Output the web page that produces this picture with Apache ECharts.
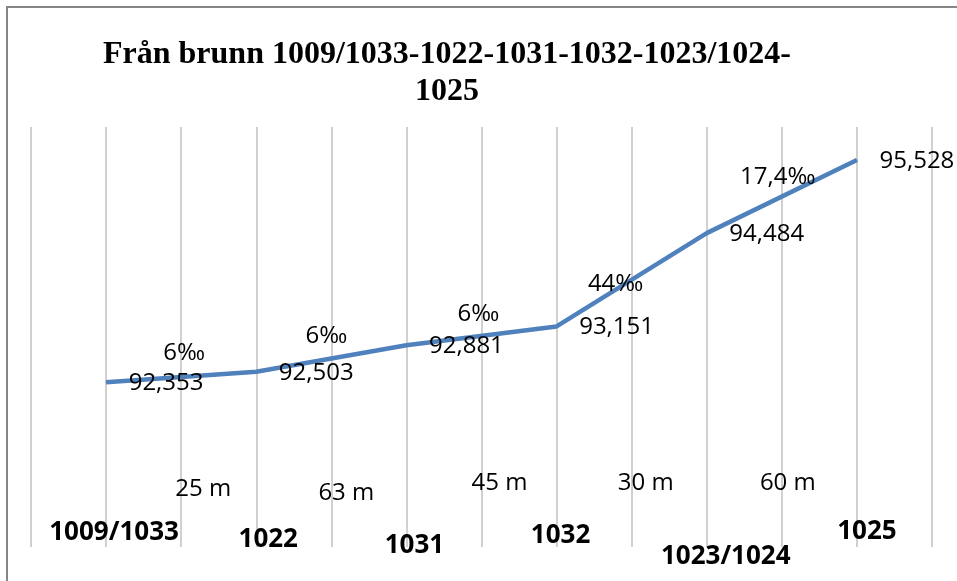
<!DOCTYPE html>
<html><head><meta charset="utf-8">
<script src="https://cdn.jsdelivr.net/npm/echarts@6/dist/echarts.min.js"></script>
<style>html,body{margin:0;padding:0;background:#fff}#c{width:957px;height:581px}</style>
</head><body><div id="c"></div>
<script>
const wells = ['1009/1033', '1022', '1031', '1032', '1023/1024', '1025'];
const elevations = [92.353, 92.503, 92.881, 93.151, 94.484, 95.528];
const slopes = ['6‰', '6‰', '6‰', '44‰', '17,4‰'];
const distances = ['25 m', '63 m', '45 m', '30 m', '60 m'];
const titleLines = ['Från brunn 1009/1033-1022-1031-1032-1023/1024-', '1025'];

// layout nudges (px) for the free-floating labels
const wellOffsets = [[8, -14], [12, -7], [8, -1], [4, -11], [19, 10], [10, -15]];
const distOffsets = [[22, -58], [15, -54], [18, -64], [14, -64], [6, -64]];
const slopeOffsets = [[3, -24], [-5, -22], [-3, -22], [-16, 4], [-4, -19]];

const Y_MIN = 90, Y_MAX = 96;
const pos = i => 1 + 2 * i;          // wells sit on every other gridline
const fmtNum = v => v.toFixed(3).replace('.', ',');
const FONT = '"Open Sans", "Noto Sans", sans-serif';

const textSeries = (data, size, weight, z) => ({
  type: 'scatter', clip: false, symbolSize: 0, silent: true,
  itemStyle: {color: '#000', opacity: 1},
  data,
  label: {show: true, position: 'inside', fontFamily: FONT, fontSize: size, fontWeight: weight,
    color: '#000', opacity: 1, textBorderWidth: 0, formatter: p => p.name},
  emphasis: {disabled: true},
  z
});

const chart = echarts.init(document.getElementById('c'), null, {renderer: 'canvas'});
chart.setOption({
  animation: false,
  backgroundColor: '#fff',
  grid: {left: 31, right: 25, top: 127, bottom: 34},
  xAxis: {
    type: 'value', min: 0, max: 12, interval: 1,
    axisLine: {show: false}, axisTick: {show: false}, axisLabel: {show: false},
    splitLine: {show: true, lineStyle: {color: '#c0c0c0', width: 1.5}}
  },
  yAxis: {
    type: 'value', min: Y_MIN, max: Y_MAX, show: false,
    splitLine: {show: false}
  },
  graphic: [
    {type: 'rect', silent: true, shape: {x: 7, y: 7, width: 980, height: 600},
     style: {fill: 'none', stroke: '#868686', lineWidth: 2}},
    {type: 'text', x: 447, y: 55, style: {text: titleLines[0], font: 'bold 32px "Liberation Serif", serif',
      align: 'center', verticalAlign: 'middle', fill: '#000'}},
    {type: 'text', x: 447, y: 92, style: {text: titleLines[1], font: 'bold 32px "Liberation Serif", serif',
      align: 'center', verticalAlign: 'middle', fill: '#000'}}
  ],
  series: [
    {
      type: 'line',
      data: elevations.map((v, i) => [pos(i), v]),
      showSymbol: true, symbol: 'circle', symbolSize: 1,
      itemStyle: {color: '#4F81BD'},
      lineStyle: {color: '#4F81BD', width: 4.5},
      label: {show: true, position: 'inside', offset: [60, 1], fontFamily: FONT, fontSize: 24, color: '#000',
        formatter: p => fmtNum(p.value[1])},
      z: 3
    },
    textSeries(wells.map((w, i) => ({value: [pos(i), Y_MIN], name: w, label: {offset: wellOffsets[i]}})),
      26, 'bold', 4),
    textSeries(distances.map((d, i) => ({value: [pos(i) + 1, Y_MIN], name: d, label: {offset: distOffsets[i]}})),
      24, 'normal', 4),
    textSeries(slopes.map((s, i) => ({value: [pos(i) + 1, (elevations[i] + elevations[i + 1]) / 2], name: s,
      label: {offset: slopeOffsets[i]}})), 24, 'normal', 4)
  ]
});
</script></body></html>
